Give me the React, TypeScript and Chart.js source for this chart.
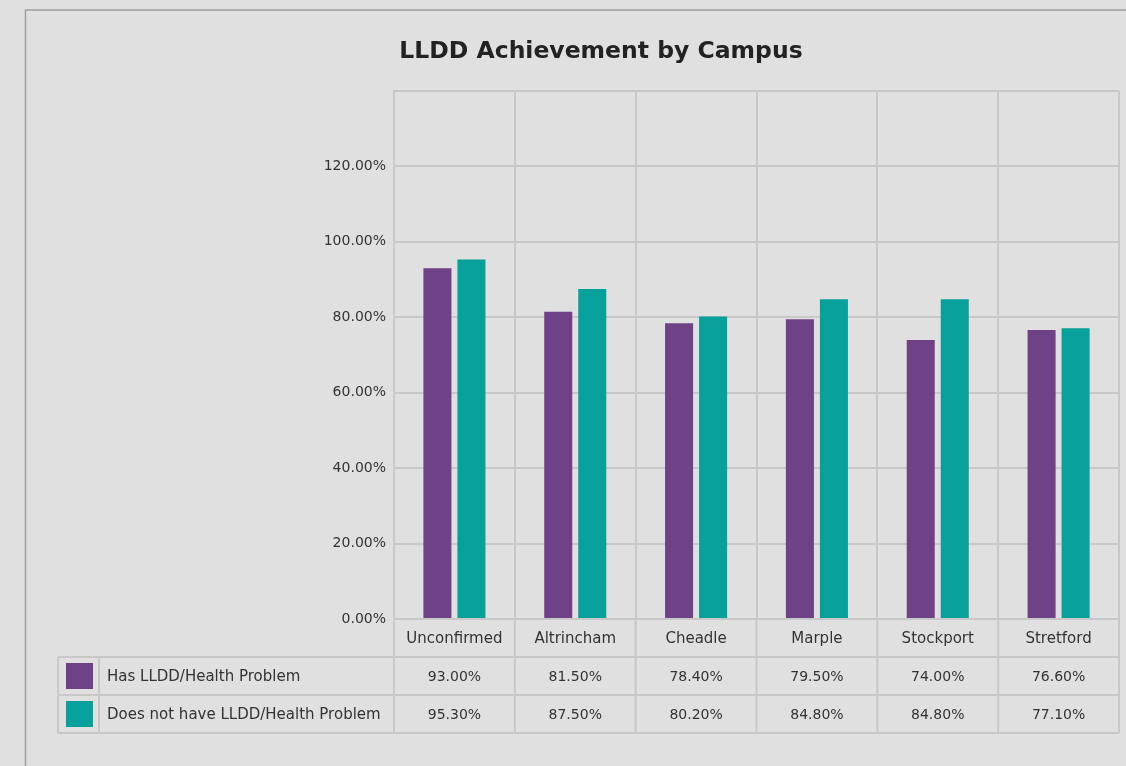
import React, { useEffect, useRef } from "react";
import { Chart, registerables } from "chart.js";

Chart.register(...registerables);

const categories = ["Unconfirmed", "Altrincham", "Cheadle", "Marple", "Stockport", "Stretford"];
const hasLLDD = [93.0, 81.5, 78.4, 79.5, 74.0, 76.6];
const noLLDD = [95.3, 87.5, 80.2, 84.8, 84.8, 77.1];
const seriesNames = ["Has LLDD/Health Problem", "Does not have LLDD/Health Problem"];
const seriesColors = ["#6f4187", "#07a09a"];
const chartTitle = "LLDD Achievement by Campus";

const FONT = "'DejaVu Sans', sans-serif";
const GRID = "#c7c8c7";
const TEXT = "#333333";
const BG = "#dfe0df";

const tablePlugin = {
  id: "tablePlugin",
  beforeDraw(chart: any) {
    const ctx = chart.ctx;
    ctx.save();
    ctx.fillStyle = BG;
    ctx.fillRect(0, 0, chart.width, chart.height);
    ctx.strokeStyle = "#9c9d9c";
    ctx.lineWidth = 1.5;
    ctx.beginPath();
    ctx.moveTo(25.5, chart.height);
    ctx.lineTo(25.5, 10);
    ctx.lineTo(chart.width, 10);
    ctx.stroke();
    ctx.restore();
  },
  afterDraw(chart: any) {
    const ctx = chart.ctx;
    const area = chart.chartArea;
    const x = chart.scales.x;
    const n = categories.length;
    const centers = categories.map((_, i) => x.getPixelForValue(i));
    const bounds: number[] = [area.left];
    for (let i = 0; i < n - 1; i++) bounds.push((centers[i] + centers[i + 1]) / 2);
    bounds.push(area.right);
    const rowH = 38;
    const top = area.bottom;
    const r1 = top + rowH;
    const r2 = r1 + rowH;
    const r3 = r2 + rowH;
    const tableLeft = 58;
    const swatchRight = 99;

    ctx.save();
    ctx.strokeStyle = GRID;
    ctx.lineWidth = 2;
    ctx.beginPath();
    bounds.forEach((b) => {
      ctx.moveTo(b, top);
      ctx.lineTo(b, r3);
    });
    [r1, r2, r3].forEach((y) => {
      ctx.moveTo(tableLeft, y);
      ctx.lineTo(area.right, y);
    });
    ctx.moveTo(tableLeft, r1);
    ctx.lineTo(tableLeft, r3);
    ctx.moveTo(swatchRight, r1);
    ctx.lineTo(swatchRight, r3);
    ctx.stroke();

    ctx.fillStyle = TEXT;
    ctx.font = `15px ${FONT}`;
    ctx.textAlign = "center";
    ctx.textBaseline = "middle";
    categories.forEach((c, i) => {
      ctx.fillText(c, centers[i], top + rowH / 2 + 1);
    });
    const rows = [hasLLDD, noLLDD];
    rows.forEach((vals, ri) => {
      const yMid = r1 + ri * rowH + rowH / 2 + 1;
      ctx.font = `14px ${FONT}`;
      vals.forEach((v, i) => {
        ctx.fillStyle = TEXT;
        ctx.textAlign = "center";
        ctx.fillText(v.toFixed(2) + "%", centers[i], yMid);
      });
      ctx.font = `15px ${FONT}`;
      ctx.textAlign = "left";
      ctx.fillText(seriesNames[ri], 107, yMid);
      ctx.fillStyle = seriesColors[ri];
      ctx.fillRect(66, r1 + ri * rowH + 6, 27, 26);
    });

    ctx.fillStyle = "#222222";
    ctx.font = `bold 23.5px ${FONT}`;
    ctx.textAlign = "center";
    ctx.textBaseline = "middle";
    ctx.fillText(chartTitle, 601, 52);
    ctx.restore();
  },
};

export default function App() {
  const canvasRef = useRef<HTMLCanvasElement | null>(null);
  useEffect(() => {
    if (!canvasRef.current) return;
    const chart = new Chart(canvasRef.current, {
      type: "bar",
      data: {
        labels: categories,
        datasets: [
          {
            label: seriesNames[0],
            data: hasLLDD,
            backgroundColor: seriesColors[0],
            barPercentage: 0.824,
            categoryPercentage: 0.563,
          },
          {
            label: seriesNames[1],
            data: noLLDD,
            backgroundColor: seriesColors[1],
            barPercentage: 0.824,
            categoryPercentage: 0.563,
          },
        ],
      },
      options: {
        animation: false,
        responsive: false,
        maintainAspectRatio: false,
        devicePixelRatio: 1,
        layout: { padding: { top: 91, right: 7, bottom: 33, left: 0 } },
        plugins: {
          legend: { display: false },
          title: { display: false },
          tooltip: { enabled: false },
        },
        scales: {
          x: {
            grid: { color: GRID, lineWidth: 2, drawTicks: false, offset: true },
            border: { color: GRID, width: 2 },
            ticks: { display: false },
            afterFit(scale: any) {
              scale.height = 114;
            },
          },
          y: {
            min: 0,
            max: 140,
            grid: { color: GRID, lineWidth: 2, drawTicks: false },
            border: { color: GRID, width: 2 },
            ticks: {
              stepSize: 20,
              padding: 8,
              color: TEXT,
              font: { family: FONT, size: 14 },
              callback: (v: any) => (Number(v) >= 140 ? "" : Number(v).toFixed(2) + "%"),
            },
            afterFit(scale: any) {
              scale.width = 394;
            },
          },
        },
      },
      plugins: [tablePlugin],
    });
    return () => chart.destroy();
  }, []);
  return (
    <div style={{ position: "fixed", left: 0, top: 0, width: 1126, height: 766, background: BG }}>
      <canvas ref={canvasRef} width={1126} height={766} style={{ display: "block" }} />
    </div>
  );
}
